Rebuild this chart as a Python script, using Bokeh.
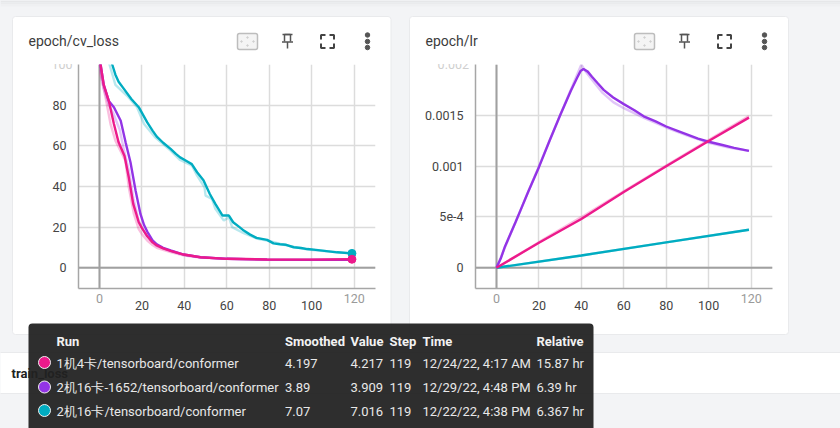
from bokeh.plotting import figure
from bokeh.layouts import column
from bokeh.models import Range1d, FixedTicker, Span
from bokeh.core.properties import value
from bokeh.embed import file_html
from bokeh.resources import INLINE

PINK = "#ec1a8b"
PURPLE = "#9334e6"
CYAN = "#00acc1"
LW = 2.4

TICKS_X = [0, 20, 40, 60, 80, 100, 120]
RUNS = ["1机4卡/tensorboard/conformer", "2机16卡-1652/tensorboard/conformer", "2机16卡/tensorboard/conformer"]
SMOOTHED = ["4.197", "3.89", "7.07"]
VALUES = ["4.217", "3.909", "7.016"]
STEPS = ["119", "119", "119"]
TIMES = ["12/24/22, 4:17 AM", "12/29/22, 4:48 PM", "12/22/22, 4:38 PM"]
RELATIVE = ["15.87 hr", "6.39 hr", "6.367 hr"]
HEADERS = ["Run", "Smoothed", "Value", "Step", "Time", "Relative"]

# epoch/cv_loss
pink_e = [0, 0.5, 2, 4.4, 6.8, 9, 11.8, 13.8, 15.9, 18.5, 20, 22.5, 25, 27, 30, 33.5, 39.7, 47.6, 60, 79, 100, 119]
pink_v = [120, 100, 90, 82, 70.7, 61.7, 55, 44.5, 31.4, 22.4, 19.5, 15.5, 12.5, 11, 9.5, 8.3, 6.5, 5.2, 4.4, 4.1, 4.0, 4.197]
pink_raw_e = [0, 0.5, 2.8, 5.2, 7.5, 12.2, 13.8, 16.2, 18.5, 20, 22.5, 25, 27, 30, 33.5, 40, 47.6, 60, 79, 100, 119]
pink_raw_v = [115, 95, 84, 70.7, 62.5, 52.7, 39.6, 26.5, 19, 16.5, 13.4, 11.2, 9.8, 8.8, 7.7, 6, 5, 4.4, 4.1, 4.0, 4.217]
purple_e = [0, 0.5, 2, 4.4, 6.8, 10, 12.3, 14.6, 17, 19.3, 21, 22.5, 25, 27, 30, 33.5, 39.7, 47.6, 60, 79, 100, 119]
purple_v = [120, 100, 90, 82, 79, 72.3, 61.7, 51.9, 38, 26.5, 21, 17.8, 13.5, 11.5, 9.8, 8.5, 6.5, 5.2, 4.4, 4.0, 3.9, 3.89]
purple_raw_e = [0, 0.5, 2, 4.4, 6.5, 9.5, 11.5, 14, 16, 18.5, 22, 27, 33.5, 40, 48, 60, 79, 100, 119]
purple_raw_v = [115, 97, 88, 80, 76, 68, 58, 47, 34, 23, 16, 10.8, 8.2, 6.3, 5.1, 4.4, 4.0, 3.9, 3.909]
cyan_e = [4, 6, 7.5, 9, 11.5, 15, 18.5, 22.5, 25, 27, 30, 33.5, 36, 38, 41, 43.5, 46, 49, 52, 54.6, 58, 61, 63, 66, 68, 71, 74, 79, 82, 85, 88, 91.5, 95, 98, 102, 107, 112, 119]
cyan_v = [112, 100, 95, 91.5, 88, 83, 79, 71.5, 67.5, 64.5, 61.5, 58.5, 56, 54.3, 52.5, 51, 47, 43, 36.3, 31.4, 25.7, 25.7, 22.4, 20, 18.3, 16.3, 14.7, 13.7, 12, 11.6, 11.3, 10.1, 9.7, 9.2, 8.8, 8.2, 7.6, 7.07]
cyan_raw_e = [3, 4.7, 7.5, 13, 17.7, 21, 26.4, 33.5, 38, 43.6, 46, 49.5, 50, 53, 54.6, 58.6, 61, 62.5, 68, 74, 79, 88, 98, 107, 119]
cyan_raw_v = [110, 100, 90, 84.6, 79, 70.7, 64, 57.6, 53, 50.2, 45.3, 39.6, 35.5, 33.9, 29, 23.2, 24.9, 20, 17, 14.4, 13.4, 11, 9, 8.1, 7.016]
end_epoch = [119]
end_pink = [4.197]
end_cyan = [7.07]

# epoch/lr
lr_purple_e = [0, 2, 4, 6.6, 9, 11.3, 15, 20, 25, 30, 35, 38, 39.6, 41, 43, 45, 47.5, 50.5, 55, 60, 65, 69.4, 75, 80, 85, 90, 95, 100, 106, 112, 119]
lr_purple_v = [0, 0.00009, 0.00021, 0.000335, 0.00045, 0.000565, 0.00075, 0.00099, 0.00125, 0.0015, 0.00174, 0.00187, 0.001935, 0.001955, 0.00193, 0.00188, 0.00182, 0.00175, 0.001675, 0.00161, 0.00155, 0.00149, 0.00144, 0.00139, 0.00135, 0.00131, 0.00127, 0.00124, 0.00121, 0.00118, 0.00115]
lr_purple_raw_e = [0, 10, 20, 30, 40, 42, 45, 50, 55, 60, 70, 80, 90, 100, 110, 119]
lr_purple_raw_v = [0, 0.0005, 0.001, 0.0015, 0.002, 0.00193, 0.00185, 0.00172, 0.00163, 0.00157, 0.00147, 0.00138, 0.0013, 0.00123, 0.00118, 0.00115]
lr_pink_e = [0, 20, 40, 60, 80, 100, 119]
lr_pink_v = [0, 0.000246, 0.00048, 0.000745, 0.000998, 0.001247, 0.001477]
lr_pink_raw_v = [0, 0.000252, 0.000498, 0.000752, 0.001006, 0.001256, 0.001492]
lr_cyan_e = [0, 40, 80, 119]
lr_cyan_v = [0, 0.000121, 0.00025, 0.000374]


def plot(left, y_end, y_start, y_ticks, y_labels, y_grid):
    p = figure(width=360, height=250, x_range=Range1d(-9.9, 130.1), y_range=Range1d(y_start, y_end),
               output_backend="svg", toolbar_location=None, min_border_left=58, min_border_right=5,
               min_border_top=0, min_border_bottom=26, background_fill_color=None, border_fill_color=None,
               outline_line_color=None, frame_align=False,
               styles={"position": "absolute", "left": f"{left}px", "top": "64px"})
    p.xaxis.ticker = FixedTicker(ticks=TICKS_X[1:-1])
    p.yaxis.ticker = FixedTicker(ticks=y_ticks)
    p.yaxis.major_label_overrides = dict(zip(y_ticks, y_labels))
    for ax in (p.xaxis[0], p.yaxis[0]):
        ax.axis_line_color = "#a6a6a6"
        ax.axis_line_width = 1.5
        ax.major_tick_line_color = None
        ax.minor_tick_line_color = None
        ax.major_label_text_font = "Roboto"
        ax.major_label_text_font_size = "12.5px"
        ax.major_label_text_color = "#444444"
        ax.major_label_standoff = 6
    p.xgrid.ticker = FixedTicker(ticks=TICKS_X)
    p.ygrid.ticker = FixedTicker(ticks=y_grid)
    for g in (p.xgrid[0], p.ygrid[0]):
        g.grid_line_color = "#dcdcdc"
        g.grid_line_width = 1.5
    p.add_layout(Span(location=0, dimension="height", line_color="#a0a0a0", line_width=2, level="underlay"))
    p.add_layout(Span(location=0, dimension="width", line_color="#a0a0a0", line_width=2, level="underlay"))
    return p


p1 = plot(20, 100, -10.2, [0, 20, 40, 60, 80], ["0", "20", "40", "60", "80"], [0, 20, 40, 60, 80, 100])
p1.line(cyan_raw_e, cyan_raw_v, line_color=CYAN, line_alpha=0.28, line_width=LW)
p1.line(purple_raw_e, purple_raw_v, line_color=PURPLE, line_alpha=0.28, line_width=LW)
p1.line(pink_raw_e, pink_raw_v, line_color=PINK, line_alpha=0.28, line_width=LW)
p1.line(cyan_e, cyan_v, line_color=CYAN, line_width=LW)
p1.line(purple_e, purple_v, line_color=PURPLE, line_width=LW)
p1.line(pink_e, pink_v, line_color=PINK, line_width=LW)
p1.scatter(end_epoch, end_cyan, size=8, color=CYAN)
p1.scatter(end_epoch, end_pink, size=8, color=PINK)

p2 = plot(417, 0.002, -0.000204, [0, 0.0005, 0.001, 0.0015], ["0", "5e-4", "0.001", "0.0015"], [0, 0.0005, 0.001, 0.0015, 0.002])
p2.line(lr_purple_raw_e, lr_purple_raw_v, line_color=PURPLE, line_alpha=0.28, line_width=LW)
p2.line(lr_pink_e, lr_pink_raw_v, line_color=PINK, line_alpha=0.28, line_width=LW)
p2.line(lr_cyan_e, lr_cyan_v, line_color=CYAN, line_alpha=0.28, line_width=LW)
p2.line(lr_cyan_e, lr_cyan_v, line_color=CYAN, line_width=LW)
p2.line(lr_purple_e, lr_purple_v, line_color=PURPLE, line_width=LW)
p2.line(lr_pink_e, lr_pink_v, line_color=PINK, line_width=LW)

# page: background, cards, titles, icons, tooltip
bg = figure(width=840, height=428, x_range=Range1d(0, 840), y_range=Range1d(428, 0),
            output_backend="svg", toolbar_location=None, min_border=0, frame_align=False,
            background_fill_color="#f3f4f6", border_fill_color="#f3f4f6", outline_line_color=None,
            x_axis_location=None, y_axis_location=None,
            styles={"position": "absolute", "left": "0px", "top": "0px"})
bg.grid.visible = False
FONT = value("Roboto")


def label(x, y, txt, color="#444444", size="12.5px", align="left", style="normal"):
    bg.text([x], [y], text=[txt], text_color=color, text_font=FONT, text_font_size=size,
            text_align=align, text_baseline="middle", text_font_style=style)


for top, shade in [(0, "#e6e7e9"), (2, "#eaebed"), (4, "#eff0f2")]:
    bg.quad(left=0, right=840, top=top, bottom=top + 2, fill_color=shade, line_color=None)
bg.quad(left=[12, 409], right=[390.5, 788], top=16, bottom=334, fill_color="white",
        line_color="#e9eaec", line_width=1, border_radius=3)
bg.quad(left=-1, right=841, top=352, bottom=393, fill_color="white", line_color="#e9eaec")
label(11, 373, "train_loss", color="#212121", size="13px", style="bold")

label(28, 40, "epoch/cv_loss", color="#3c3c3c", size="14px")
label(425, 40, "epoch/lr", color="#3c3c3c", size="14px")

for dx in (0, 397):
    # fit-to-domain icon
    bg.quad(left=237 + dx, right=257 + dx, top=33, bottom=49, fill_color="#f4f4f4", line_color="#bdbdbd",
            line_width=1.5, border_radius=2)
    bg.scatter([247 + dx, 247 + dx, 241 + dx, 253 + dx], [37, 45, 41, 41], size=1.5, color="#d0d0d0")
    # pin
    bg.multi_line([[282 + dx, 292 + dx], [284 + dx, 290 + dx], [284 + dx, 284 + dx], [290 + dx, 290 + dx],
                   [281.5 + dx, 292.5 + dx], [287 + dx, 287 + dx]],
                  [[34, 34], [34, 34], [34, 41], [34, 41], [41.5, 41.5], [41.5, 48]],
                  line_color="#555555", line_width=1.5)
    # full screen
    xs = [[320.5 + dx, 320.5 + dx, 325 + dx], [329 + dx, 333.5 + dx, 333.5 + dx],
          [320.5 + dx, 320.5 + dx, 325 + dx], [329 + dx, 333.5 + dx, 333.5 + dx]]
    ys = [[39, 34.5, 34.5], [34.5, 34.5, 39], [43, 47.5, 47.5], [47.5, 47.5, 43]]
    bg.multi_line(xs, ys, line_color="#444444", line_width=2)
    # more
    bg.scatter([367 + dx] * 3, [34.5, 41, 47], size=4.5, color="#555555")
    # faded x tick labels
    label(99 + dx, 298, "0", color="#9a9a9a", align="center")
    label(353.7 + dx, 298, "120", color="#9a9a9a", align="center")

# faded top tick labels, half hidden by the card
label(72, 64, "100", color="#cfcfcf", align="right")
label(468.5, 64, "0.002", color="#cfcfcf", align="right")
bg.quad(left=[40, 430], right=[74, 470], top=56, bottom=63.5, fill_color="white", line_color=None)

# tooltip
bg.quad(left=28, right=593, top=323, bottom=436, fill_color="#212121", fill_alpha=0.94, line_color=None,
        border_radius=4)
COLS = [56, 284.5, 350, 389, 422, 536]
for x, h in zip(COLS, HEADERS):
    label(x, 341, h, color="#f2f2f2", size="13px", style="bold")
ROW_Y = [363, 387, 411]
for i, y in enumerate(ROW_Y):
    for x, txt in zip(COLS, (RUNS[i], SMOOTHED[i], VALUES[i], STEPS[i], TIMES[i], RELATIVE[i])):
        label(x, y, txt, color="#e8e8e8", size="13px")
bg.scatter([44, 44, 44], [362, 386.5, 410], size=12, color=[PINK, PURPLE, CYAN],
           line_color="#f0f0f0", line_width=1)

root = column(bg, p1, p2, width=840, height=428,
              styles={"position": "fixed", "left": "0px", "top": "0px", "background": "#f3f4f6"})
open("out.html", "w").write(file_html(root, INLINE))
